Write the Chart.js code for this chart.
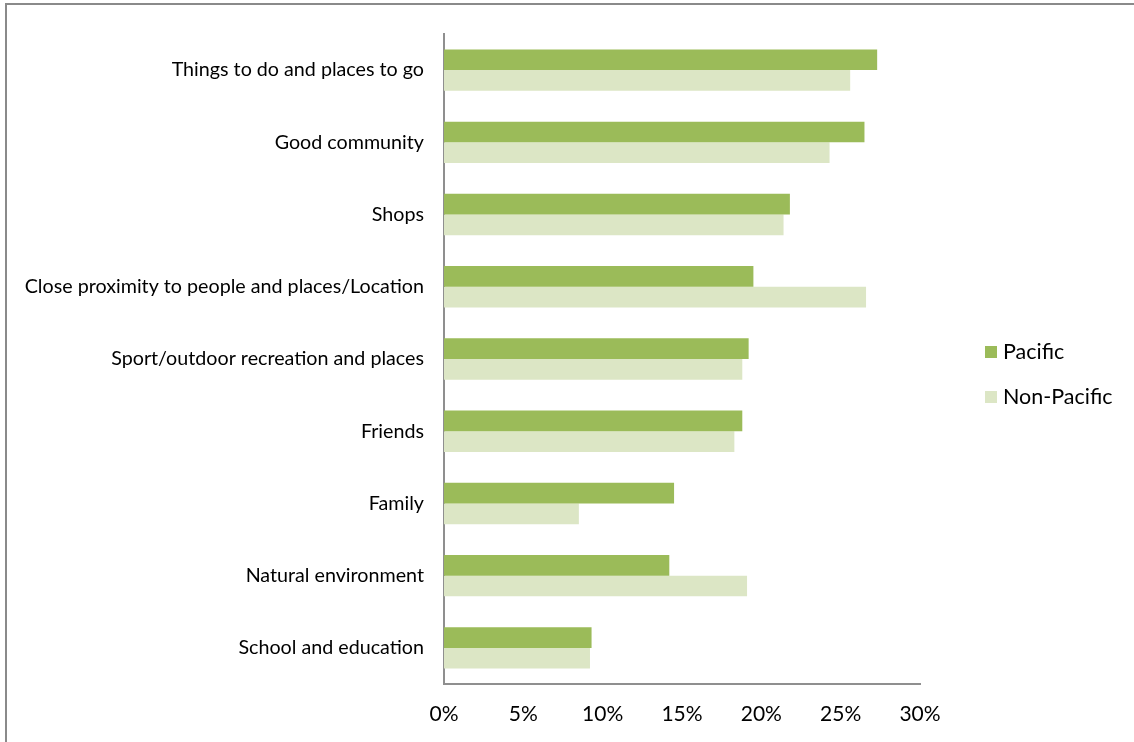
<!DOCTYPE html>
<html>
<head>
<meta charset="utf-8">
<script src="https://cdn.jsdelivr.net/npm/chart.js@4.4.1/dist/chart.umd.min.js"></script>
<style>
  html, body { margin: 0; padding: 0; background: #fff; overflow: hidden; }
  #frame { position: absolute; left: 5px; top: 3px; width: 1300px; height: 900px;
           border: 2px solid #8a8a8a; box-sizing: border-box; }
  #wrap { position: absolute; left: 0; top: 0; width: 1134px; height: 742px; }
</style>
</head>
<body>
<div id="frame"></div>
<div id="wrap"><canvas id="chart" width="1134" height="742"></canvas></div>
<script>
// Reasons people like their neighbourhood, share of respondents (%)
const categories = [
  "Things to do and places to go",
  "Good community",
  "Shops",
  "Close proximity to people and places/Location",
  "Sport/outdoor recreation and places",
  "Friends",
  "Family",
  "Natural environment",
  "School and education"
];
const pacific    = [27.3, 26.5, 21.8, 19.5, 19.2, 18.8, 14.5, 14.2, 9.3];
const nonPacific = [25.6, 24.3, 21.4, 26.6, 18.8, 18.3, 8.5, 19.1, 9.2];
const seriesNames = ["Pacific", "Non-Pacific"];
const xTicks = [0, 5, 10, 15, 20, 25, 30];

const FONT = "Lato, 'Open Sans', sans-serif";
const AXIS = "#8f8f8f";

// Legend drawn to the right of the plot, one square + label per dataset
const sideLegend = {
  id: "sideLegend",
  afterDraw(chart) {
    const ctx = chart.ctx;
    ctx.save();
    ctx.font = "21.5px " + FONT;
    ctx.textBaseline = "middle";
    ctx.textAlign = "left";
    chart.data.datasets.forEach((ds, i) => {
      const y = 352 + i * 45;
      ctx.fillStyle = ds.backgroundColor;
      ctx.fillRect(985, y - 6, 12, 12);
      ctx.fillStyle = "#000";
      ctx.fillText(ds.label, 1003, y);
    });
    ctx.restore();
  }
};

new Chart(document.getElementById("chart"), {
  type: "bar",
  data: {
    labels: categories,
    datasets: [
      { label: seriesNames[0], data: pacific, backgroundColor: "#9BBB59", borderWidth: 0 },
      { label: seriesNames[1], data: nonPacific, backgroundColor: "#DCE6C5", borderWidth: 0 }
    ]
  },
  options: {
    indexAxis: "y",
    responsive: false,
    animation: false,
    devicePixelRatio: 1,
    layout: { padding: { top: 34, right: 214, left: 0, bottom: 0 } },
    datasets: { bar: { categoryPercentage: 0.573, barPercentage: 1.0 } },
    plugins: { legend: { display: false }, tooltip: { enabled: false } },
    scales: {
      x: {
        min: 0, max: 30,
        afterBuildTicks(scale) { scale.ticks = xTicks.map(v => ({ value: v })); },
        afterFit(scale) { scale.height = 58; },
        grid: { display: false, drawTicks: false },
        border: { display: true, color: AXIS, width: 2 },
        ticks: { color: "#000", font: { family: FONT, size: 21 }, padding: 18,
                 maxRotation: 0, callback: v => v + "%" }
      },
      y: {
        afterFit(scale) { scale.width = 444; },
        grid: { display: false, drawTicks: false },
        border: { display: true, color: AXIS, width: 2 },
        ticks: { color: "#000", font: { family: FONT, size: 19.7 }, padding: 20,
                 autoSkip: false }
      }
    }
  },
  plugins: [sideLegend]
});
</script>
</body>
</html>
